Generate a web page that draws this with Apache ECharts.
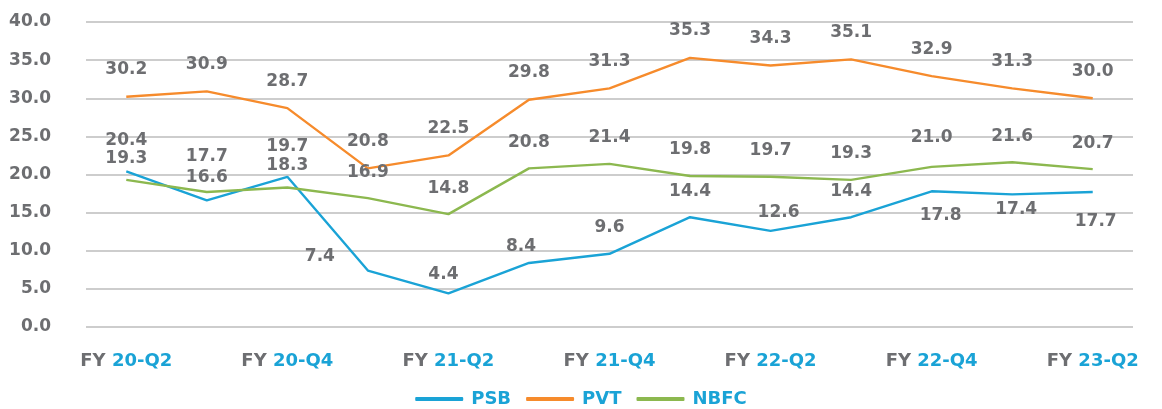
<!DOCTYPE html>
<html>
<head>
<meta charset="utf-8">
<script src="https://cdn.jsdelivr.net/npm/echarts@6/dist/echarts.min.js"></script>
<style>
  html, body { margin: 0; padding: 0; background: #fff; }
  #main { width: 1162px; height: 409px; }
</style>
</head>
<body>
<div id="main"></div>
<script>
// quarters on the x axis
var quarters = ["20-Q2", "20-Q3", "20-Q4", "21-Q1", "21-Q2", "21-Q3", "21-Q4",
  "22-Q1", "22-Q2", "22-Q3", "22-Q4", "23-Q1", "23-Q2"];
var psb = [20.4, 16.6, 19.7, 7.4, 4.4, 8.4, 9.6, 14.4, 12.6, 14.4, 17.8, 17.4, 17.7];
var pvt = [30.2, 30.9, 28.7, 20.8, 22.5, 29.8, 31.3, 35.3, 34.3, 35.1, 32.9, 31.3, 30.0];
var nbfc = [19.3, 17.7, 18.3, 16.9, 14.8, 20.8, 21.4, 19.8, 19.7, 19.3, 21.0, 21.6, 20.7];

var grey = "#6d6e71";
var blue = "#1aa3d6";
var font = "DejaVu Sans";
var BASE = 17.5; // default label distance above the line

// label nudges in px (the source chart has hand placed labels)
var psbNudge = {
  0: { dy: -5 },
  1: { dy: 3 },
  2: { dy: -4 },
  3: { dx: -48, dy: 12 },
  4: { dx: -5, dy: 7 },
  5: { dx: -8, dy: 10 },
  8: { dx: 8, dy: 8 },
  10: { below: 15.5, dx: 9 },
  11: { below: 6.5, dx: 4 },
  12: { below: 21.5, dx: 3 }
};
var nbfcNudge = {
  0: { dy: 5 },
  1: { dy: -9 },
  2: { dy: 4 },
  10: { dy: -3 }
};

function nudgeLabel(n, base) {
  var lab = {};
  var dx = n.dx || 0;
  if (n.below != null) {
    lab.position = "bottom";
    lab.distance = n.below;
  } else {
    lab.position = "top";
    lab.distance = base - (n.dy || 0);
  }
  if (dx) lab.padding = [0, Math.max(0, -2 * dx), 0, Math.max(0, 2 * dx)];
  return lab;
}

function withLabels(values, nudges, base) {
  return values.map(function (v, i) {
    var item = { value: v };
    if (nudges && nudges[i]) item.label = nudgeLabel(nudges[i], base);
    return item;
  });
}

var myChart = echarts.init(document.getElementById("main"));

function lineSeries(name, values, color, nudges, dist) {
  return {
    name: name,
    type: "line",
    data: withLabels(values, nudges, dist),
    symbol: "circle",
    symbolSize: 0,
    showSymbol: true,
    lineStyle: { color: color, width: 2.4 },
    itemStyle: { color: color },
    label: {
      show: true,
      position: "top",
      distance: dist,
      color: grey,
      fontFamily: font,
      fontWeight: "bold",
      fontSize: 17,
      formatter: function (p) { return p.value.toFixed(1); }
    },
    labelLayout: { hideOverlap: false }
  };
}

var option = {
  backgroundColor: "#fff",
  animation: false,
  grid: { left: 86, right: 29, top: 22, bottom: 82 },
  legend: {
    bottom: -4,
    left: "center",
    icon: "roundRect",
    itemWidth: 48,
    itemHeight: 4,
    itemGap: 15,
    textStyle: {
      color: blue, fontFamily: font, fontWeight: "bold", fontSize: 18,
      padding: [0, 0, 0, 3]
    },
    data: ["PSB", "PVT", "NBFC"]
  },
  xAxis: {
    type: "category",
    data: quarters,
    axisLine: { show: false },
    axisTick: { show: false },
    axisLabel: {
      interval: 1,
      margin: 25,
      formatter: function (v) { return "{a|FY }{b|" + v + "}"; },
      rich: {
        a: { color: grey, fontFamily: font, fontWeight: "bold", fontSize: 18 },
        b: { color: blue, fontFamily: font, fontWeight: "bold", fontSize: 18 }
      }
    }
  },
  yAxis: {
    type: "value",
    min: 0,
    max: 40,
    interval: 5,
    axisLabel: {
      margin: 35,
      color: grey,
      fontFamily: font,
      fontWeight: "bold",
      fontSize: 17,
      formatter: function (v) { return v.toFixed(1); }
    },
    splitLine: { lineStyle: { color: "#bdbdbd", width: 1.5 } }
  },
  series: [
    lineSeries("PSB", psb, blue, psbNudge, BASE),
    lineSeries("PVT", pvt, "#f68b2c", null, BASE + 1),
    lineSeries("NBFC", nbfc, "#8cb84f", nbfcNudge, BASE)
  ]
};

myChart.setOption(option);
</script>
</body>
</html>
